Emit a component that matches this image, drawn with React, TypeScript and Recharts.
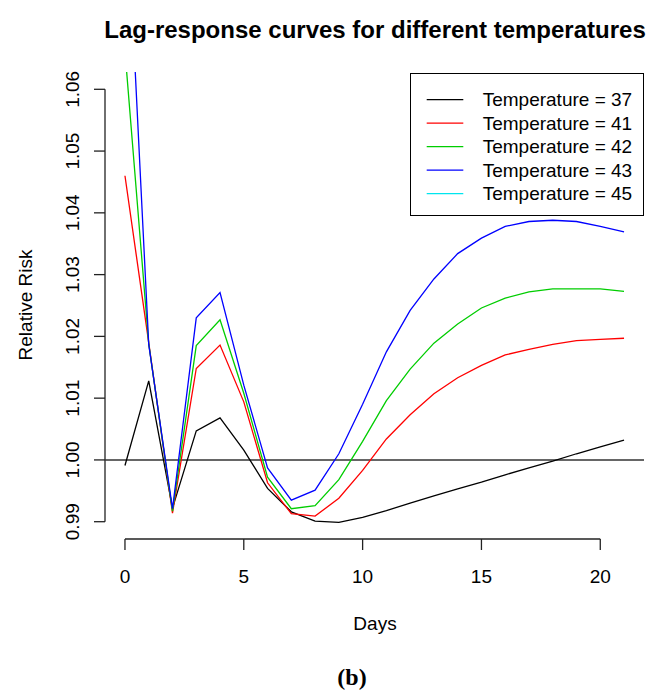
import React from "react";
import { LineChart, Line, XAxis, YAxis, ReferenceLine, Legend } from "recharts";

const days = [0, 1, 2, 3, 4, 5, 6, 7, 8, 9, 10, 11, 12, 13, 14, 15, 16, 17, 18, 19, 20, 21];
const t37 = [0.9991, 1.0128, 0.9922, 1.0047, 1.0068, 1.0016, 0.9954, 0.9916, 0.9901, 0.9899, 0.9907, 0.9918, 0.993, 0.9942, 0.9953, 0.9964, 0.9976, 0.9987, 0.9998, 1.001, 1.0021, 1.0032];
const t41 = [1.046, 1.019, 0.9914, 1.0148, 1.0186, 1.0094, 0.9963, 0.9913, 0.9909, 0.9938, 0.9983, 1.0034, 1.0073, 1.0107, 1.0133, 1.0153, 1.017, 1.0179, 1.0187, 1.0193, 1.0195, 1.0197];
const t42 = [1.0662, 1.0188, 0.9917, 1.0185, 1.0227, 1.0108, 0.9972, 0.9921, 0.9926, 0.9968, 1.003, 1.0096, 1.0147, 1.0189, 1.022, 1.0246, 1.0262, 1.0272, 1.0277, 1.0277, 1.0277, 1.0273];
const t43 = [1.0965, 1.0187, 0.9921, 1.023, 1.0271, 1.0121, 0.9987, 0.9935, 0.9951, 1.001, 1.009, 1.0175, 1.0242, 1.0293, 1.0334, 1.0359, 1.0378, 1.0386, 1.0388, 1.0386, 1.0378, 1.0369];

const xTicks = [0, 5, 10, 15, 20];
const yTicks = [0.99, 1.0, 1.01, 1.02, 1.03, 1.04, 1.05, 1.06];
const legendLabels = ["Temperature = 37", "Temperature = 41", "Temperature = 42", "Temperature = 43", "Temperature = 45"];
const legendColors = ["#000000", "#ff0000", "#00cd00", "#0000ff", "#00e5ee"];

const data = days.map((d, i) => ({ day: d, t37: t37[i], t41: t41[i], t42: t42[i], t43: t43[i] }));

const FONT = "'Liberation Sans', Arial, sans-serif";
const AX = "#222";

const XTick = (props: any) => {
  const { x, y, payload } = props;
  return (
    <text x={x} y={y + 33} textAnchor="middle" fontFamily={FONT} fontSize={19} fill="#000">
      {payload.value}
    </text>
  );
};

const YTick = (props: any) => {
  const { x, y, payload } = props;
  const cx = x - 22;
  return (
    <text
      x={cx}
      y={y}
      dy="0.35em"
      textAnchor="middle"
      transform={`rotate(-90, ${cx}, ${y})`}
      fontFamily={FONT}
      fontSize={19}
      fill="#000"
    >
      {Number(payload.value).toFixed(2)}
    </text>
  );
};

const LegendBox = () => (
  <svg width={234} height={143} style={{ display: "block" }}>
    <rect x={0.5} y={0.5} width={233} height={142} fill="#fff" stroke="#000" strokeWidth={1} />
    {legendLabels.map((lab, i) => {
      const cy = 26.6 + i * 23.5;
      return (
        <g key={lab}>
          <line x1={16.7} x2={53.3} y1={cy} y2={cy} stroke={legendColors[i]} strokeWidth={1.3} />
          <text x={72.7} y={cy + 6.8} fontFamily={FONT} fontSize={19} fill="#000">
            {lab}
          </text>
        </g>
      );
    })}
  </svg>
);

export default function App() {
  return (
    <div style={{ position: "absolute", left: 0, top: 0, width: 650, height: 695, background: "#fff" }}>
      <LineChart
        width={650}
        height={695}
        data={data}
        margin={{ top: 72, right: 6, left: 55, bottom: 106 }}
      >
        <XAxis
          type="number"
          dataKey="day"
          domain={[-0.84, 21.84]}
          ticks={xTicks}
          allowDataOverflow
          height={50}
          axisLine={false}
          tickLine={{ stroke: AX, strokeWidth: 1.3 }}
          tickSize={11}
          tickMargin={0}
          tick={<XTick />}
          interval={0}
        />
        <YAxis
          type="number"
          domain={[0.9872, 1.0628]}
          ticks={yTicks}
          allowDataOverflow
          width={50}
          axisLine={false}
          tickLine={{ stroke: AX, strokeWidth: 1.3 }}
          tickSize={11}
          tickMargin={0}
          tick={<YTick />}
          interval={0}
        />
        <ReferenceLine
          segment={[{ x: -0.84, y: 0.99 }, { x: -0.84, y: 1.06 }]}
          stroke={AX}
          strokeWidth={1.3}
          ifOverflow="visible"
        />
        <ReferenceLine
          segment={[{ x: 0, y: 0.9872 }, { x: 20, y: 0.9872 }]}
          stroke={AX}
          strokeWidth={1.3}
          ifOverflow="visible"
        />
        <ReferenceLine y={1} stroke="#333" strokeWidth={1.5} />
        <Line type="linear" dataKey="t37" stroke={legendColors[0]} strokeWidth={1.3} dot={false} isAnimationActive={false} />
        <Line type="linear" dataKey="t41" stroke={legendColors[1]} strokeWidth={1.3} dot={false} isAnimationActive={false} />
        <Line type="linear" dataKey="t42" stroke={legendColors[2]} strokeWidth={1.3} dot={false} isAnimationActive={false} />
        <Line type="linear" dataKey="t43" stroke={legendColors[3]} strokeWidth={1.3} dot={false} isAnimationActive={false} />
        <Legend
          layout="vertical"
          align="center"
          verticalAlign="middle"
          wrapperStyle={{ left: 410, top: 73, width: 234, height: 143 }}
          content={() => <LegendBox />}
        />
      </LineChart>
      <svg
        width={650}
        height={695}
        style={{ position: "absolute", left: 0, top: 0, pointerEvents: "none" }}
      >
        <text x={375} y={38} textAnchor="middle" fontFamily={FONT} fontWeight="bold" fontSize={24} fill="#000">
          Lag-response curves for different temperatures
        </text>
        <text x={375} y={630} textAnchor="middle" fontFamily={FONT} fontSize={19} fill="#000">
          Days
        </text>
        <text
          x={25}
          y={305}
          dy="0.35em"
          textAnchor="middle"
          transform="rotate(-90, 25, 305)"
          fontFamily={FONT}
          fontSize={19}
          fill="#000"
        >
          Relative Risk
        </text>
        <text x={352} y={685} textAnchor="middle" fontFamily="'Liberation Serif', 'Times New Roman', serif" fontWeight="bold" fontSize={24} fill="#000">
          (b)
        </text>
      </svg>
    </div>
  );
}
